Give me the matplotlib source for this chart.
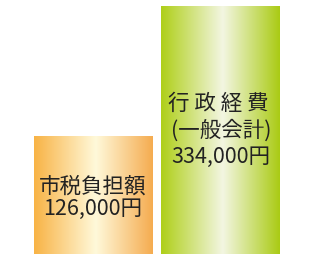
import numpy as np
import matplotlib
matplotlib.use('Agg')
import matplotlib.pyplot as plt
from matplotlib.colors import LinearSegmentedColormap

plt.rcParams['font.family'] = ['Noto Sans CJK JP', 'DejaVu Sans']

labels = ['市税負担額\n126,000円', '行 政 経 費 \n(一般会計)\n334,000円']
values = [126000, 334000]
edge_colors = [('#F8B345', '#FFF9DA', '#F5AC50'), ('#AFCF18', '#F3F6E2', '#AACB14')]

# the bars in the picture are not to scale, so the axis starts below zero
y_bottom = -62800
y_top = 343600

fig = plt.figure(figsize=(3.18, 2.54), dpi=100)
ax = fig.add_axes([0, 0, 1, 1])
ax.axis('off')

x = np.arange(len(values))
bars = ax.bar(x, np.array(values) - y_bottom, bottom=y_bottom, width=0.94,
              color='none', edgecolor='none')

grad = np.linspace(0, 1, 256).reshape(1, -1)
for bar, cols in zip(bars, edge_colors):
    cmap = LinearSegmentedColormap.from_list('g', [(0, cols[0]), (0.52, cols[1]), (1, cols[2])])
    x0 = bar.get_x()
    ax.imshow(grad, cmap=cmap, aspect='auto', zorder=1,
              extent=[x0, x0 + bar.get_width(), bar.get_y(), bar.get_y() + bar.get_height()])

ax.set_xlim(-0.739, 1.775)
ax.set_ylim(y_bottom, y_top)

ax.text(x[0] - 0.01, 27600, labels[0], ha='center', va='center', fontsize=15.5,
        color='#222222', linespacing=1.0)
ax.text(x[1] + 0.01, 135000, labels[1], ha='center', va='center', fontsize=15.5,
        color='#222222', linespacing=1.26)

fig.savefig('out.png', dpi=100)
